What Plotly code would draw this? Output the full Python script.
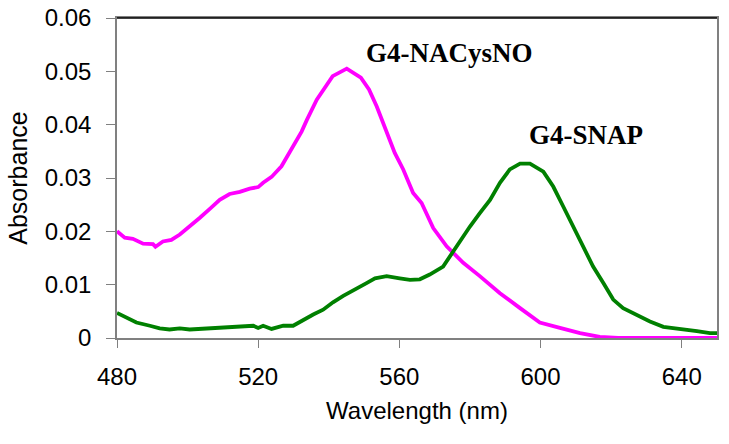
import plotly.graph_objects as go

# G4-NACysNO (magenta)
nac_x = [480, 482.2, 484.5, 487.4, 490.2, 490.9, 493, 495.4, 497.8, 500.6, 503.4, 506.3, 509.1,
         511.9, 514.8, 517.6, 520, 521.4, 523.8, 526.6, 529.4, 532.3, 533.8, 536.6, 541.1, 545.1,
         549.1, 551.4, 553.6, 555.4, 558.7, 561.1, 563.9, 566.3, 568.6, 569.6, 573.4, 574.3, 577.2,
         578.1, 582.8, 588.5, 594.2, 599.8, 605.5, 611.2, 616.8, 622, 630, 640, 650]
nac_y = [0.0200, 0.0188, 0.0186, 0.0177, 0.0176, 0.0171, 0.0181, 0.0184, 0.0194, 0.0209, 0.0225,
         0.0242, 0.0259, 0.0270, 0.0274, 0.0280, 0.0283, 0.0291, 0.0302, 0.0322, 0.0353, 0.0387,
         0.0409, 0.0447, 0.0491, 0.0505, 0.0488, 0.0466, 0.0434, 0.0403, 0.0347, 0.0316, 0.0272,
         0.0253, 0.0222, 0.0206, 0.0172, 0.0166, 0.0147, 0.0141, 0.0116, 0.0084, 0.0056, 0.0029,
         0.0019, 0.0009, 0.0002, 0.0000, 0.0000, 0.0000, 0.0000]

# G4-SNAP (green)
snap_x = [480, 482.7, 485.5, 489.3, 492.1, 494.9, 497.8, 500.6, 506.3, 512.9, 518.6, 520, 521.4,
          523.8, 527.1, 529.9, 532.7, 535.6, 538.4, 541.2, 544.1, 547.9, 550.7, 553.1, 556.4,
          560.1, 563, 565.8, 568.6, 572.4, 576.2, 580, 582.8, 585.7, 588.5, 591.3, 594.2, 597,
          600.8, 603.6, 606.4, 609.3, 612.1, 614.9, 617.8, 620.6, 623.4, 627.2, 631, 634.8, 640.5,
          644.3, 648, 650]
snap_y = [0.0047, 0.0038, 0.0029, 0.0023, 0.0018, 0.0016, 0.0018, 0.0016, 0.0018, 0.0020, 0.0023,
          0.0019, 0.0023, 0.0017, 0.0023, 0.0023, 0.0034, 0.0044, 0.0053, 0.0067, 0.0079, 0.0094,
          0.0103, 0.0112, 0.0116, 0.0112, 0.0109, 0.0110, 0.0119, 0.0134, 0.0172, 0.0209, 0.0234,
          0.0259, 0.0291, 0.0316, 0.0327, 0.0327, 0.0312, 0.0284, 0.0247, 0.0209, 0.0172, 0.0134,
          0.0103, 0.0072, 0.0056, 0.0044, 0.0031, 0.0021, 0.0017, 0.0013, 0.0009, 0.0009]

x_ticks = [480, 520, 560, 600, 640]
y_ticks = [0, 0.01, 0.02, 0.03, 0.04, 0.05, 0.06]
y_tick_text = ["0", "0.01", "0.02", "0.03", "0.04", "0.05", "0.06"]

labels = ["G4-NACysNO", "G4-SNAP"]
label_x = [574.3, 613]
label_y = [0.0535, 0.0381]

fig = go.Figure()
fig.add_trace(go.Scatter(x=nac_x, y=nac_y, mode="lines",
                         line=dict(color="#FF00FF", width=3.8), name=labels[0]))
fig.add_trace(go.Scatter(x=snap_x, y=snap_y, mode="lines",
                         line=dict(color="#008000", width=3.8), name=labels[1]))

for t, lx, ly in zip(labels, label_x, label_y):
    fig.add_annotation(x=lx, y=ly, text="<b>%s</b>" % t, showarrow=False,
                       font=dict(family="Liberation Serif", size=27, color="black"),
                       xanchor="center", yanchor="middle")

fig.add_shape(type="line", xref="paper", yref="paper", x0=0, x1=1, y0=1, y1=1,
              line=dict(color="black", width=1.5))

tick_font = dict(family="Liberation Sans", size=24, color="black")
fig.update_xaxes(range=[480, 650], tickvals=x_ticks, ticktext=[str(v) for v in x_ticks],
                 showgrid=False, zeroline=False, showline=True, linecolor="#808080",
                 linewidth=1.5, mirror=True, ticks="outside", ticklen=8, tickcolor="#808080",
                 tickwidth=1.2, tickfont=tick_font, ticklabelstandoff=8, automargin=False,
                 ticklabeloverflow="allow",
                 title=dict(text="Wavelength (nm)",
                            font=dict(family="Liberation Sans", size=24, color="black"),
                            standoff=14))
fig.update_yaxes(range=[0, 0.06], tickvals=y_ticks, ticktext=y_tick_text,
                 showgrid=False, zeroline=False, showline=True, linecolor="#808080",
                 linewidth=1.5, mirror=True, ticks="outside", ticklen=9, tickcolor="#808080",
                 tickwidth=1.2, tickfont=tick_font, ticklabelstandoff=10, automargin=False,
                 ticklabeloverflow="allow",
                 title=dict(text="Absorbance", font=dict(family="Liberation Sans", size=25,
                                                         color="black"), standoff=10))

fig.update_layout(width=729, height=444, showlegend=False, hovermode=False,
                  margin=dict(l=117, r=12, t=18, b=106),
                  plot_bgcolor="white", paper_bgcolor="white")

# remove the browser's default 8px body margin so the figure fills the window
fig.write_html("out.html", config={"displayModeBar": False},
               post_script="document.body.style.margin='0';")
